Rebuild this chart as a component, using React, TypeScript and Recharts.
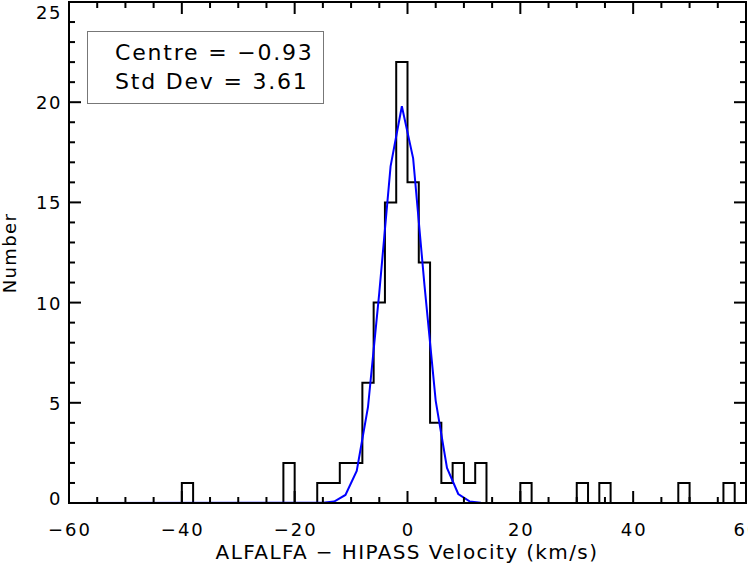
import { ComposedChart, Line, XAxis, YAxis } from "recharts";

// histogram bins (left edge, width 2 km/s) that hold at least one galaxy
const binLeft = [-40, -22, -16, -14, -12, -10, -8, -6, -4, -2, 0, 2, 4, 6, 8, 10, 12, 20, 30, 34, 48, 56];
const binCount = [1, 2, 1, 1, 2, 2, 6, 10, 15, 22, 16, 12, 4, 1, 2, 1, 2, 1, 1, 1, 1, 1];

// gaussian fit as drawn (blue polyline vertices)
const fitX = [-60, -15, -13, -11, -9, -7, -5, -3, -1, 1, 3, 5, 7, 9, 11, 13, 15, 60];
const fitY = [0, 0.01, 0.07, 0.4, 1.6, 4.8, 10.5, 16.8, 19.8, 17.2, 10.9, 5.1, 1.75, 0.45, 0.08, 0.01, 0, 0];

const xTicks = [-60, -55, -50, -45, -40, -35, -30, -25, -20, -15, -10, -5, 0, 5, 10, 15, 20, 25, 30, 35, 40, 45, 50, 55, 60];
const yTicks = [0, 1, 2, 3, 4, 5, 6, 7, 8, 9, 10, 11, 12, 13, 14, 15, 16, 17, 18, 19, 20, 21, 22, 23, 24, 25];

const BIN = 2;
const FONT = "'DejaVu Sans', sans-serif";

// layout of the plot box
const W = 748;
const H = 570;
const LEFT = 69;
const TOP = 2;
const RIGHT = 2;
const BOTTOM = 67;
const PW = W - LEFT - RIGHT;
const PH = H - TOP - BOTTOM;

// expand sparse bins into a step series over the full axis range
const countAt = new Map(binLeft.map((b, i) => [b, binCount[i]]));
const histData: { x: number; n: number }[] = [];
for (let b = -60; b < 60; b += BIN) histData.push({ x: b, n: countAt.get(b) ?? 0 });
histData.push({ x: 60, n: histData[histData.length - 1].n });

const fitData = fitX.map((x, i) => ({ x, n: fitY[i] }));

const minus = (v: number) => (v < 0 ? `\u2212${Math.abs(v)}` : `${v}`);

// bottom ticks, mirrored onto the top edge
const XTick = (p: any) => {
  const v = p.payload.value;
  const len = v % 20 === 0 ? 12 : 6;
  return (
    <g stroke="#000" strokeWidth={2}>
      <line x1={p.x} x2={p.x} y1={p.y} y2={p.y - len} />
      <line x1={p.x} x2={p.x} y1={p.y - PH} y2={p.y - PH + len} />
      {v % 20 === 0 && (
        <text x={p.x + 1} y={p.y + 33} textAnchor="middle" fontSize={18} letterSpacing={2} fontFamily={FONT} fill="#000" stroke="none">
          {minus(v)}
        </text>
      )}
    </g>
  );
};

// left ticks, mirrored onto the right edge
const YTick = (p: any) => {
  const v = p.payload.value;
  const len = v % 5 === 0 ? 12 : 6;
  const ty = Math.min(Math.max(p.y, 12), 498);
  return (
    <g stroke="#000" strokeWidth={2}>
      <line x1={p.x} x2={p.x + len} y1={p.y} y2={p.y} />
      <line x1={p.x + PW} x2={p.x + PW - len} y1={p.y} y2={p.y} />
      {v % 5 === 0 && (
        <text x={p.x - 7} y={ty + 7} textAnchor="end" fontSize={18} letterSpacing={1.5} fontFamily={FONT} fill="#000" stroke="none">
          {v}
        </text>
      )}
    </g>
  );
};

export default function App() {
  return (
    <div style={{ position: "absolute", left: 0, top: 0, width: W, height: H, background: "#fff" }}>
      <ComposedChart width={W} height={H} margin={{ top: TOP, right: RIGHT, left: 0, bottom: 0 }}>
        <XAxis
          dataKey="x"
          type="number"
          domain={[-60, 60]}
          ticks={xTicks}
          interval={0}
          height={BOTTOM}
          tickSize={0}
          tickMargin={0}
          tickLine={false}
          tick={<XTick />}
          axisLine={false}
        />
        <YAxis
          type="number"
          domain={[0, 25]}
          ticks={yTicks}
          interval={0}
          width={LEFT}
          tickSize={0}
          tickMargin={0}
          tickLine={false}
          tick={<YTick />}
          axisLine={false}
        />
        <Line
          data={histData}
          dataKey="n"
          type="stepAfter"
          stroke="#000"
          strokeWidth={2}
          dot={false}
          isAnimationActive={false}
        />
        <Line
          data={fitData}
          dataKey="n"
          type="linear"
          stroke="#0000ff"
          strokeWidth={2}
          dot={false}
          isAnimationActive={false}
        />
      </ComposedChart>
      <svg
        width={W}
        height={H}
        style={{ position: "absolute", left: 0, top: 0, pointerEvents: "none" }}
        fontFamily={FONT}
      >
        <rect x={LEFT} y={TOP} width={PW} height={PH} fill="none" stroke="#000" strokeWidth={2} />
        <rect x={87.5} y={31.5} width={236} height={72} fill="#fff" stroke="#777" strokeWidth={1} />
        <text x={115} y={60} fontSize={22} letterSpacing={1.8} fill="#000">Centre = {"\u2212"}0.93</text>
        <text x={115} y={89} fontSize={22} letterSpacing={1.8} fill="#000">Std Dev = 3.61</text>
        <text x={407} y={559} textAnchor="middle" fontSize={20} letterSpacing={1.4} fill="#000">
          ALFALFA {"\u2212"} HIPASS Velocity (km/s)
        </text>
        <text x={16} y={253} textAnchor="middle" fontSize={18} letterSpacing={1.4} fill="#000" transform="rotate(-90 16 253)">
          Number
        </text>
      </svg>
    </div>
  );
}
